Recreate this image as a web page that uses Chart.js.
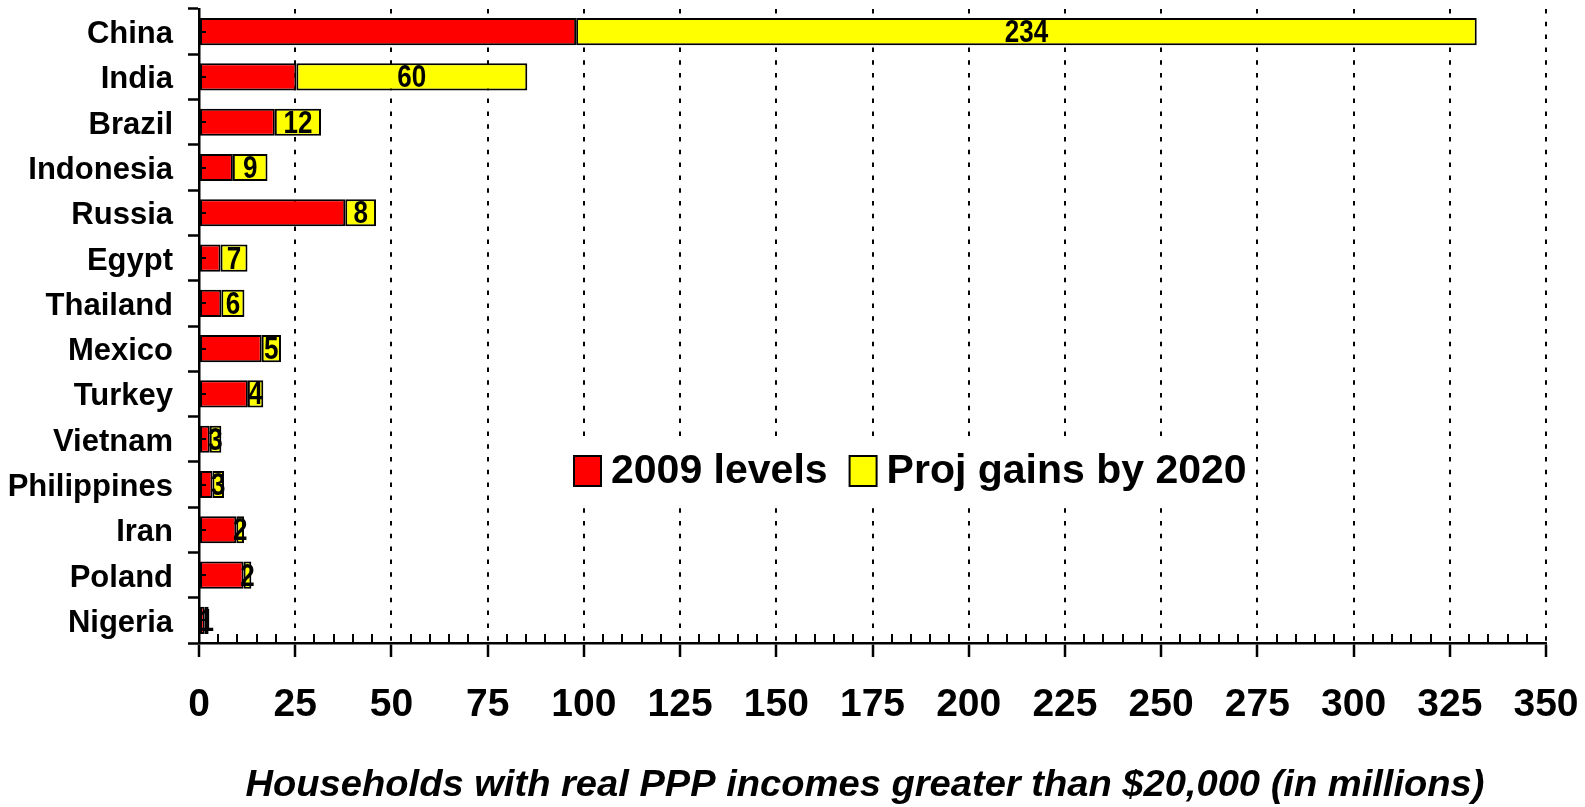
<!DOCTYPE html>
<html lang="en">
<head>
    <meta charset="UTF-8">
    <title>Households with real PPP incomes greater than $20,000</title>
    <script src="https://cdn.jsdelivr.net/npm/chart.js@4.4.0/dist/chart.umd.min.js"></script>
    <style>
        html, body { margin: 0; padding: 0; background: #fff; }
    </style>
</head>
<body>
    <canvas id="myChart" width="1585" height="807"></canvas>

    <script type="text/javascript" charset="utf-8">
        // data (millions of households)
        var countries = ["China", "India", "Brazil", "Indonesia", "Russia", "Egypt", "Thailand",
                         "Mexico", "Turkey", "Vietnam", "Philippines", "Iran", "Poland", "Nigeria"];
        var levels2009 = [98, 25.3, 19.7, 8.8, 38, 5.6, 5.8, 16.3, 12.7, 2.8, 3.5, 9.7, 11.6, 1.5];
        var gains2020 = [234, 60, 12, 9, 8, 7, 6, 5, 4, 3, 3, 2, 2, 1];
        var seriesNames = ["2009 levels", "Proj gains by 2020"];
        var xMin = 0, xMax = 350, majorStep = 25, minorStep = 5;
        var axisTitle = "Households with real PPP incomes greater than $20,000 (in millions)";

        var FONT = "'Liberation Sans', Arial, sans-serif";
        var RED = '#ff0000', YELLOW = '#ffff00';

        var extras = {
            id: 'extras',
            afterDatasetsDraw: function(chart) {
                var ctx = chart.ctx;
                var x = chart.scales.x, y = chart.scales.y, area = chart.chartArea;
                ctx.save();
                ctx.strokeStyle = '#000';
                ctx.lineWidth = 2;

                // minor ticks on the x axis, pointing up
                for (var v = xMin; v <= xMax; v += minorStep) {
                    if (v % majorStep === 0) continue;
                    var px = Math.round(x.getPixelForValue(v));
                    ctx.beginPath();
                    ctx.moveTo(px, area.bottom);
                    ctx.lineTo(px, area.bottom - 9);
                    ctx.stroke();
                }
                // small inner ticks on the category axis
                countries.forEach(function(c, i) {
                    var py = Math.round(y.getPixelForValue(i));
                    ctx.beginPath();
                    ctx.moveTo(area.left, py);
                    ctx.lineTo(area.left + 7, py);
                    ctx.stroke();
                });

                // value labels in the yellow segments
                var meta = chart.getDatasetMeta(1);
                ctx.fillStyle = '#000';
                ctx.font = 'bold 31px ' + FONT;
                ctx.textAlign = 'center';
                ctx.textBaseline = 'middle';
                meta.data.forEach(function(bar, i) {
                    ctx.save();
                    ctx.translate((bar.x + bar.base) / 2, bar.y + 2);
                    ctx.scale(0.84, 1);
                    ctx.fillText(String(gains2020[i]), 0, 0);
                    ctx.restore();
                });

                // legend box inside the plot
                ctx.fillStyle = '#fff';
                ctx.fillRect(560, 440, 690, 62);
                ctx.font = 'bold 41px ' + FONT;
                ctx.textAlign = 'left';
                var lx = 574, ly = 471;
                [RED, YELLOW].forEach(function(col, i) {
                    ctx.fillStyle = col;
                    ctx.fillRect(lx, ly - 15, 27, 30);
                    ctx.strokeRect(lx, ly - 15, 27, 30);
                    lx += 27 + 10;
                    ctx.fillStyle = '#000';
                    ctx.fillText(seriesNames[i], lx, ly + 1);
                    lx += ctx.measureText(seriesNames[i]).width + 22;
                });

                // axis title
                ctx.font = 'italic bold 37px ' + FONT;
                ctx.textAlign = 'center';
                ctx.save();
                ctx.translate(865, 786);
                ctx.scale(1.03, 1);
                ctx.fillText(axisTitle, 0, 0);
                ctx.restore();

                ctx.restore();
            }
        };

        var ctx = document.getElementById('myChart').getContext('2d');
        var chart = new Chart(ctx, {
            type: 'bar',
            data: {
                labels: countries,
                datasets: [{
                    label: seriesNames[0],
                    data: levels2009,
                    backgroundColor: RED,
                    borderColor: '#000',
                    borderWidth: 2,
                    borderSkipped: false
                }, {
                    label: seriesNames[1],
                    data: gains2020,
                    backgroundColor: YELLOW,
                    borderColor: '#000',
                    borderWidth: 2,
                    borderSkipped: false
                }]
            },
            options: {
                indexAxis: 'y',
                responsive: false,
                animation: false,
                devicePixelRatio: 1,
                categoryPercentage: 1,
                barPercentage: 0.6,
                layout: { padding: { top: 9, right: 39, bottom: 0, left: 0 } },
                plugins: {
                    legend: { display: false },
                    tooltip: { enabled: false }
                },
                scales: {
                    x: {
                        type: 'linear',
                        stacked: true,
                        min: xMin,
                        max: xMax,
                        afterFit: function(s) {
                            s.height = 164;
                            s.paddingLeft = 0;
                            s.paddingRight = 0;
                        },
                        ticks: {
                            stepSize: majorStep,
                            color: '#000',
                            padding: 25,
                            maxRotation: 0,
                            autoSkip: false,
                            font: { family: FONT, size: 39, weight: 'bold' }
                        },
                        grid: {
                            color: '#000',
                            lineWidth: 2,
                            tickLength: 14,
                            tickWidth: 2.5,
                            tickColor: '#000'
                        },
                        border: { display: true, color: '#000', width: 2.5, dash: [4.5, 8.3] }
                    },
                    y: {
                        stacked: true,
                        afterFit: function(s) {
                            s.width = 199;
                            s.paddingTop = 0;
                            s.paddingBottom = 0;
                        },
                        ticks: {
                            color: '#000',
                            padding: 15,
                            labelOffset: 3,
                            autoSkip: false,
                            font: { family: FONT, size: 31, weight: 'bold' }
                        },
                        grid: {
                            drawOnChartArea: false,
                            tickLength: 11,
                            tickWidth: 2.5,
                            tickColor: '#000',
                            offset: true
                        },
                        border: { display: true, color: '#000', width: 2.5 }
                    }
                }
            },
            plugins: [extras]
        });
    </script>
</body>
</html>
